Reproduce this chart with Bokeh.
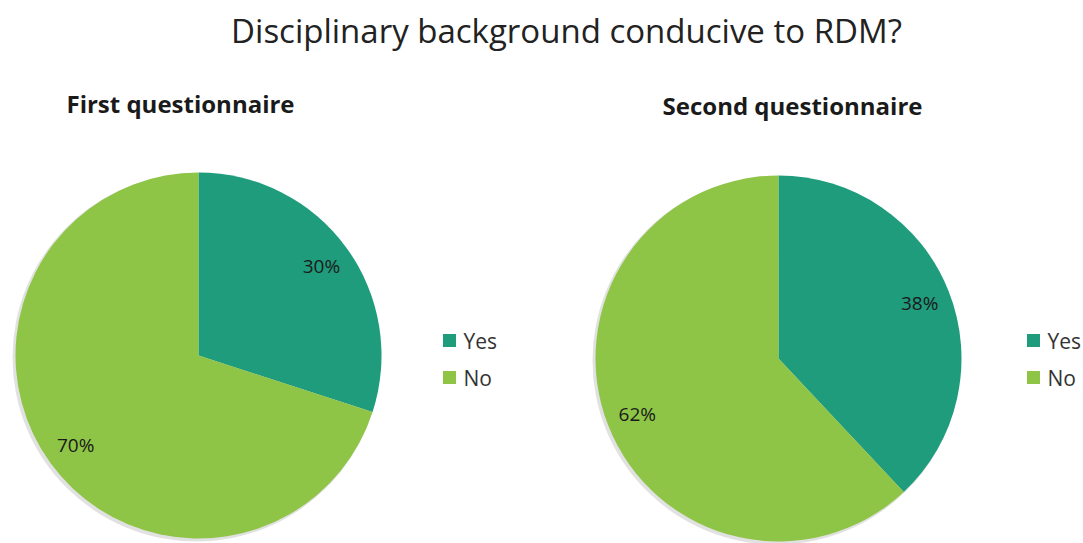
import math
from bokeh.plotting import figure
from bokeh.models import Range1d, ColumnDataSource
from bokeh.core.properties import value
from bokeh.embed import file_html
from bokeh.resources import INLINE

title = "Disciplinary background conducive to RDM?"
categories = ["Yes", "No"]
panel_titles = ["First questionnaire", "Second questionnaire"]
first_values = [30, 70]
second_values = [38, 62]
colors = ["#1f9c7c", "#8fc546"]

W, H = 1083, 543
p = figure(width=W, height=H, output_backend="svg", toolbar_location=None,
           x_range=Range1d(0, W), y_range=Range1d(0, H), min_border=0)
p.axis.visible = False
p.xgrid.visible = False
p.ygrid.visible = False
p.outline_line_color = None
p.background_fill_color = "white"

font = value("Open Sans")

p.text(x=[566], y=[H - 30], text=[title], text_font=font, text_font_size="33px",
       text_color="#222222", text_align="center", text_baseline="middle")

pies = [
    dict(vals=first_values, cx=198, cy=H - 355, r=183, tx=180, ty=H - 103,
         lx=449, sub_size="24px"),
    dict(vals=second_values, cx=778, cy=H - 358, r=183, tx=792, ty=H - 105,
         lx=1033, sub_size="24px"),
]

for name, pie in zip(panel_titles, pies):
    vals = pie["vals"]
    total = float(sum(vals))
    starts, ends, lxs, lys, labels = [], [], [], [], []
    a = math.pi / 2
    for v in vals:
        sweep = 2 * math.pi * v / total
        starts.append(a - sweep)
        ends.append(a)
        mid = a - sweep / 2
        lxs.append(pie["cx"] + 0.83 * pie["r"] * math.cos(mid))
        lys.append(pie["cy"] + 0.83 * pie["r"] * math.sin(mid))
        labels.append(f"{v}%")
        a -= sweep
    # soft shadow
    p.circle(x=[pie["cx"] - 2], y=[pie["cy"] - 2], radius=pie["r"] + 1,
             fill_color="#888888", fill_alpha=0.25, line_color=None)
    src = ColumnDataSource(dict(start=starts, end=ends, color=colors))
    p.wedge(x=pie["cx"], y=pie["cy"], radius=pie["r"], start_angle="start",
            end_angle="end", direction="anticlock", fill_color="color",
            line_color=None, source=src)
    p.text(x=lxs, y=lys, text=labels, text_font=font, text_font_size="19px",
           text_color="#1a1a1a", text_align="center", text_baseline="middle")
    p.text(x=[pie["tx"]], y=[pie["ty"]], text=[name], text_font=font,
           text_font_size=pie["sub_size"], text_font_style="bold",
           text_color="#1a1a1a", text_align="center", text_baseline="middle")
    # legend
    ly = [H - 340, H - 377]
    p.scatter(x=[pie["lx"]] * 2, y=ly, marker="square", size=13,
              fill_color=colors, line_color=None)
    p.text(x=[pie["lx"] + 14] * 2, y=ly, text=categories, text_font=font,
           text_font_size="21px", text_color="#333333", text_align="left",
           text_baseline="middle")

open("out.html", "w").write(file_html(p, INLINE))
